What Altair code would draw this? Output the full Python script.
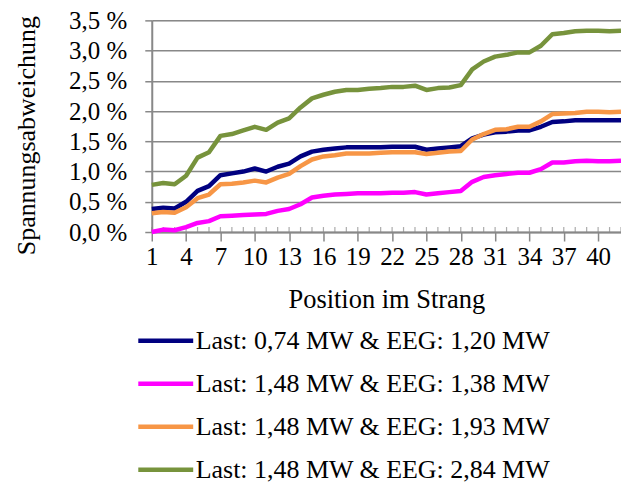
import altair as alt
import pandas as pd

positions = list(range(1, 43))

series_names = [
    "Last: 0,74 MW & EEG: 1,20 MW",
    "Last: 1,48 MW & EEG: 1,38 MW",
    "Last: 1,48 MW & EEG: 1,93 MW",
    "Last: 1,48 MW & EEG: 2,84 MW",
]
series_colors = ["#000080", "#FF00FF", "#F79646", "#77933C"]

s_074_120 = [0.38, 0.40, 0.39, 0.50, 0.68, 0.76, 0.94, 0.97, 1.00, 1.05, 1.00, 1.08, 1.13, 1.25,
             1.33, 1.36, 1.38, 1.40, 1.40, 1.40, 1.40, 1.41, 1.41, 1.41, 1.36, 1.38, 1.40, 1.42,
             1.55, 1.61, 1.65, 1.66, 1.68, 1.68, 1.74, 1.82, 1.83, 1.85, 1.85, 1.85, 1.85, 1.85]
s_148_138 = [0.00, 0.04, 0.03, 0.08, 0.15, 0.18, 0.26, 0.27, 0.28, 0.29, 0.30, 0.35, 0.38, 0.46,
             0.57, 0.60, 0.62, 0.63, 0.64, 0.64, 0.64, 0.65, 0.65, 0.66, 0.62, 0.64, 0.66, 0.68,
             0.83, 0.91, 0.94, 0.96, 0.98, 0.98, 1.04, 1.15, 1.15, 1.17, 1.18, 1.17, 1.17, 1.18]
s_148_193 = [0.31, 0.33, 0.32, 0.41, 0.56, 0.62, 0.79, 0.80, 0.82, 0.85, 0.82, 0.90, 0.96, 1.09,
             1.20, 1.25, 1.27, 1.30, 1.30, 1.30, 1.31, 1.32, 1.32, 1.32, 1.29, 1.31, 1.33, 1.34,
             1.53, 1.62, 1.69, 1.70, 1.74, 1.74, 1.83, 1.95, 1.96, 1.97, 1.99, 1.99, 1.98, 1.99]
s_148_284 = [0.78, 0.81, 0.79, 0.93, 1.23, 1.32, 1.59, 1.62, 1.68, 1.74, 1.69, 1.81, 1.88, 2.06,
             2.21, 2.27, 2.32, 2.35, 2.35, 2.37, 2.38, 2.40, 2.40, 2.42, 2.35, 2.38, 2.39, 2.43,
             2.69, 2.82, 2.90, 2.93, 2.97, 2.97, 3.08, 3.27, 3.29, 3.32, 3.33, 3.33, 3.32, 3.33]

x_label_values = [1, 4, 7, 10, 13, 16, 19, 22, 25, 28, 31, 34, 37, 40]
y_tick_values = [0.0, 0.5, 1.0, 1.5, 2.0, 2.5, 3.0, 3.5]

rows = []
for k, (name, vals) in enumerate(zip(series_names, [s_074_120, s_148_138, s_148_193, s_148_284])):
    for p, v in zip(positions, vals):
        rows.append({"pos": p, "val": v, "series": name, "order": k})
df = pd.DataFrame(rows)
ticks_df = pd.DataFrame({"pos": positions, "val": [0.0] * len(positions)})

FONT = "Liberation Serif"
GRAY = "#888888"

x_scale = alt.Scale(domain=[1, 42], nice=False, zero=False)
y_scale = alt.Scale(domain=[0, 3.5], nice=False)

x_axis = alt.Axis(
    title="Position im Strang", values=x_label_values, grid=False,
    tickSize=9, tickColor=GRAY, tickWidth=1.5,
    domainColor=GRAY, domainWidth=2,
    labelFont=FONT, labelFontSize=25, labelColor="black", labelPadding=4,
    labelOverlap=False, labelFlush=False,
    titleFont=FONT, titleFontSize=26.5, titleFontWeight="normal", titleColor="black",
    titlePadding=17)
y_axis = alt.Axis(
    title="Spannungsabweichung", values=y_tick_values,
    labelExpr="replace(format(datum.value, '.1f'), '.', ',') + ' %'",
    grid=True, gridColor=GRAY, gridWidth=1.5,
    tickSize=7, tickColor=GRAY, tickWidth=1.5,
    domainColor=GRAY, domainWidth=2,
    labelFont=FONT, labelFontSize=25, labelColor="black", labelPadding=18,
    labelOverlap=False,
    titleFont=FONT, titleFontSize=26, titleFontWeight="normal", titleColor="black",
    titleX=-125, titleY=115, titleAngle=270, titleAlign="center", titleBaseline="middle")

lines = alt.Chart(df).mark_line(strokeWidth=4.5, strokeJoin="round", strokeCap="butt", clip=False).encode(
    x=alt.X("pos:Q", scale=x_scale, axis=x_axis),
    y=alt.Y("val:Q", scale=y_scale, axis=y_axis),
    color=alt.Color("series:N", scale=alt.Scale(domain=series_names, range=series_colors),
                    legend=alt.Legend(title=None, orient="none", legendX=-16, legendY=291,
                                      direction="vertical", symbolType="stroke",
                                      symbolStrokeWidth=4.5, symbolSize=3025,
                                      labelFont=FONT, labelFontSize=26, labelColor="black",
                                      labelOffset=0, rowPadding=0, labelLimit=500)),
    order=alt.Order("order:Q"),
)

minor_ticks = alt.Chart(ticks_df).mark_tick(orient="vertical", color=GRAY, thickness=1.2, size=5, yOffset=-2.5).encode(
    x=alt.X("pos:Q", scale=x_scale, axis=x_axis),
    y=alt.Y("val:Q", scale=y_scale, axis=y_axis),
)

chart = alt.layer(minor_ticks, lines).properties(
    width=470, height=212,
    autosize=alt.AutoSizeParams(type="none"),
    padding={"left": 144, "top": 12, "right": 0, "bottom": 254},
).configure_view(stroke=None).configure(background="white")

chart.save("out.html", embed_options={"renderer": "svg", "actions": False})
